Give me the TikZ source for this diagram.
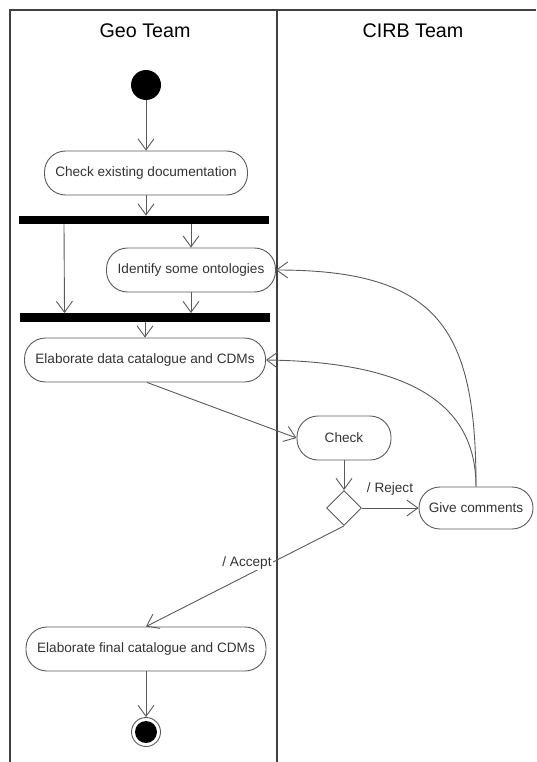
\documentclass[tikz,border=0pt]{standalone}
\usepackage{fontspec}
\setmainfont{Liberation Sans}
\usetikzlibrary{arrows.meta,shapes.misc,shapes.geometric,calc}
\definecolor{ln}{HTML}{5A5A5A}
\definecolor{fr}{HTML}{404040}
\definecolor{tx}{HTML}{333333}
\begin{document}
\begin{tikzpicture}[x=1pt,y=-1pt,
  act/.style={rectangle, rounded corners=21pt, draw=ln, line width=0.9pt, text=tx, font=\fontsize{13.6}{16}\selectfont, minimum height=44pt, inner xsep=6pt},
  bar/.style={fill=black, draw=none, minimum width=250pt, minimum height=8.5pt, inner sep=0pt},
  flow/.style={draw=ln, line width=0.9pt, -{Straight Barb[length=11pt,width=16pt,line width=0.9pt]}},
  lbl/.style={text=tx, font=\fontsize{13.6}{16}\selectfont, inner sep=1pt},
  head/.style={text=black, font=\fontsize{19.7}{22}\selectfont},
  lane/.style={draw=fr, line width=1.5pt}]
\useasboundingbox (0,0) rectangle (536,762);
% swimlane frame
\draw[lane] (10,762) -- (10,10) -- (536,10);
\draw[lane] (277,10) -- (277,762);
\node[head] (hg) at (145,31) {Geo Team};
\node[head] (hc) at (413,31) {CIRB Team};
% nodes
\node[circle, fill=black, minimum size=30pt, inner sep=0pt] (start) at (146,85) {};
\node[act, minimum width=203pt] (ced) at (146,173) {Check existing documentation};
\node[bar] (b1) at (144,220) {};
\node[act, minimum width=169pt] (ido) at (191,270) {Identify some ontologies};
\node[bar] (b2) at (144.5,317.5) {};
\node[act, minimum width=241pt] (edc) at (145,360) {Elaborate data catalogue and CDMs};
\node[act, minimum width=94pt] (chk) at (344,438) {Check};
\node[diamond, aspect=1, draw=ln, line width=0.9pt, minimum size=35pt, inner sep=0pt] (dec) at (344,508) {};
\node[act, minimum width=114pt, minimum height=42pt] (gc) at (476,508) {Give comments};
\node[act, minimum width=240pt] (efc) at (146,649) {Elaborate final catalogue and CDMs};
\node[circle, draw=ln, line width=0.9pt, minimum size=29pt, inner sep=0pt] (end) at (146,732) {};
\node[circle, fill=black, minimum size=22pt, inner sep=0pt] (endin) at (146,732) {};
% connectors
\draw[flow] (start) -- (ced);
\draw[flow] (ced.south) -- (ced.south |- b1.north);
\draw[flow] ([xshift=-80pt]b1.south) -- ([xshift=-80pt]b2.north);
\draw[flow] (b1.south -| ido.north) -- (ido.north);
\draw[flow] (ido.south) -- (ido.south |- b2.north);
\draw[flow] (b2.south -| edc.north) -- (edc.north);
\draw[flow] ([xshift=2pt]edc.south) -- (chk.west);
\draw[flow] (chk.south) -- (dec.north);
\draw[flow] (dec.east) -- (gc.west);
\node[lbl] (rej) at (390,489) {/ Reject};
\draw[flow] (dec.south) -- (efc.north);
\node[lbl, fill=white] (acc) at (247,563) {/ Accept};
\draw[flow] (efc.south) -- (end.north);
\draw[flow] (gc.north) .. controls (476,330) and (440,270) .. (ido.east);
\draw[flow] (gc.north) .. controls (476,410) and (420,362) .. (edc.east);
\end{tikzpicture}
\end{document}
